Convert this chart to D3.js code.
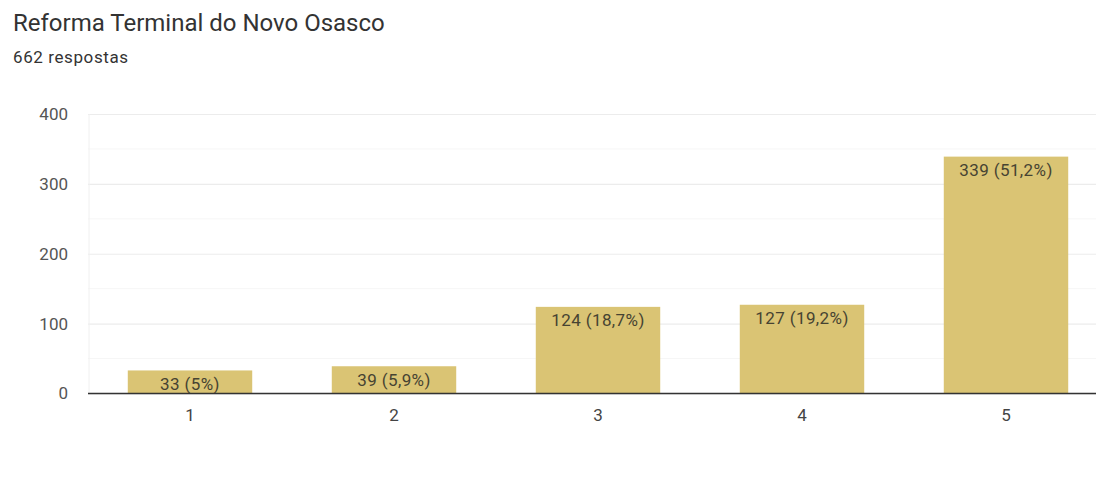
<!DOCTYPE html>
<html><head><meta charset="utf-8">
<script src="https://cdn.jsdelivr.net/npm/d3@7"></script>
<style>
html,body{margin:0;padding:0;background:#fff;}
svg{display:block;font-family:Roboto, Arial, sans-serif;}
</style></head>
<body>
<svg id="chart" width="1096" height="503"></svg>
<script>
const categories = ["1", "2", "3", "4", "5"];
const counts = [33, 39, 124, 127, 339];
const labels = ["33 (5%)", "39 (5,9%)", "124 (18,7%)", "127 (19,2%)", "339 (51,2%)"];
const yTicks = [0, 100, 200, 300, 400];
const yMinorTicks = [50, 150, 250, 350];
const title = "Reforma Terminal do Novo Osasco";
const subtitle = "662 respostas";

(function () {
const svg = d3.select("#chart");
const W = 1096;
const mLeft = 88, mRight = 1108, mTop = 114, mBottom = 393.5;
const FONT = "Roboto, Arial, sans-serif";

svg.append("text").attr("x", 13).attr("y", 31)
  .attr("font-size", 24).attr("fill", "#333").text(title);
svg.append("text").attr("x", 13).attr("y", 63)
  .attr("font-size", 17).attr("letter-spacing", 0.6).attr("fill", "#333").text(subtitle);

const x = d3.scaleBand().domain(categories).range([mLeft, mRight]).paddingInner(0.39).paddingOuter(0.195);
const y = d3.scaleLinear().domain([0, 400]).range([mBottom, mTop]);

svg.append("g").selectAll("line").data(yMinorTicks).join("line")
  .attr("x1", mLeft).attr("x2", W).attr("y1", d => y(d)).attr("y2", d => y(d))
  .attr("stroke", "#f6f6f6").attr("stroke-width", 1);

const gy = svg.append("g").attr("transform", `translate(${mLeft},0)`)
  .call(d3.axisLeft(y).tickValues(yTicks).tickSize(-(W - mLeft)).tickPadding(20).tickFormat(d3.format("d")));
gy.select(".domain").remove();
gy.selectAll(".tick line").attr("stroke", "#ececec").attr("stroke-width", 1.2);
gy.selectAll(".tick text").attr("font-size", 17).attr("fill", "#555").attr("font-family", FONT);

svg.append("line").attr("x1", mLeft + 1).attr("x2", mLeft + 1).attr("y1", mTop).attr("y2", mBottom)
  .attr("stroke", "#f0f0f0");

svg.append("g").selectAll("rect").data(counts).join("rect")
  .attr("x", (d, i) => x(categories[i]))
  .attr("y", d => y(d))
  .attr("width", x.bandwidth())
  .attr("height", d => mBottom - y(d))
  .attr("fill", "#dac474");

svg.append("g").selectAll("text").data(counts).join("text")
  .attr("x", (d, i) => x(categories[i]) + x.bandwidth() / 2)
  .attr("y", d => y(d) + 19.5)
  .attr("text-anchor", "middle")
  .attr("font-size", 17).attr("letter-spacing", 0.4).attr("fill", "#464332")
  .text((d, i) => labels[i]);

const gx = svg.append("g").attr("transform", `translate(0,${mBottom})`)
  .call(d3.axisBottom(x).tickSize(0).tickPadding(15));
gx.select(".domain").attr("d", `M${mLeft},0H${W}`).attr("stroke", "#333").attr("stroke-width", 1.5);
gx.selectAll(".tick text").attr("font-size", 17).attr("fill", "#444").attr("font-family", FONT);
})();
</script>
</body></html>
